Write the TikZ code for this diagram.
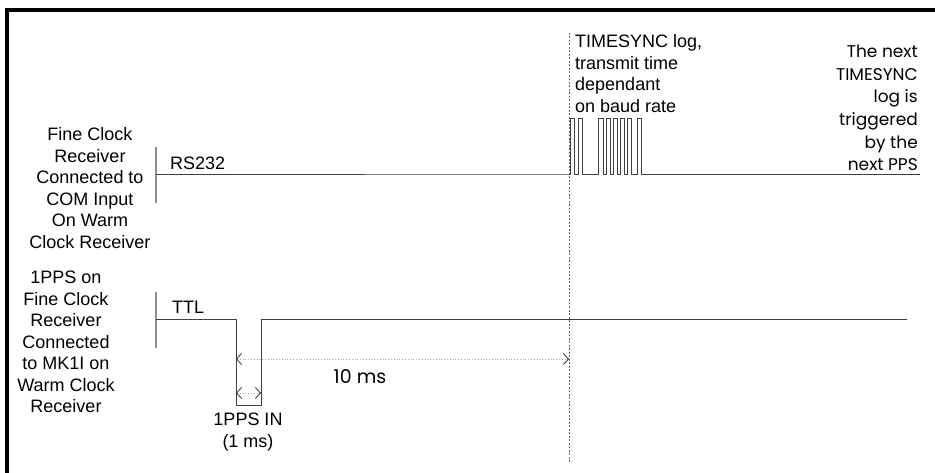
\documentclass[tikz,border=0pt]{standalone}
\usepackage{fontspec}
\setmainfont{Liberation Sans}
\newfontfamily\gothic{Poppins}
\usetikzlibrary{arrows.meta}

\tikzset{
  lbl/.style={inner sep=0pt, font=\fontsize{18}{21.5}\selectfont},
  thinlbl/.style={inner sep=0pt, font=\gothic\fontsize{17}{22.6}\selectfont},
  trace/.style={black!75, line width=0.9pt},
  sigbar/.style={black!45, line width=1.6pt},
  dim/.style={black!35, dotted, line width=0.8pt,
    {Straight Barb[length=5pt,width=11pt,black!80]}-{Straight Barb[length=5pt,width=11pt,black!80]}},
}

\begin{document}
\begin{tikzpicture}[x=1pt,y=-1pt]
  \useasboundingbox (0,0) rectangle (935,473);
  % frame
  \draw[line width=4pt] (7,473) -- (7,10) -- (935,10);

  % signal names
  \node[lbl, align=center] (comlbl) at (90,188)
    {Fine Clock\\Receiver\\Connected to\\COM Input\\On Warm\\Clock Receiver};
  \node[lbl, align=center] (ppslbl) at (66,342)
    {1PPS on\\Fine Clock\\Receiver\\Connected\\to MK1I on\\Warm Clock\\Receiver};

  % RS232 trace
  \draw[sigbar] (156,147) -- (156,203);
  \node[lbl, anchor=west] (rs) at (170,163) {RS232};
  \draw[trace] (156,174) -- (569,174)
    foreach \a/\b in {570/574,578/582,598/603,606/610,613/617,620/624,627/631,637/641}
      { -- (\a,174) -- (\a,118) -- (\b,118) -- (\b,174) } -- (920,174);

  % TTL trace
  \draw[sigbar] (156,292) -- (156,348);
  \node[lbl, anchor=west] (ttl) at (172,307) {TTL};
  \draw[trace] (156,319) -- (236,319) -- (236,405) -- (261,405) -- (261,319) -- (907,319);

  % PPS reference
  \draw[black!60, line width=0.9pt, dash pattern=on 2pt off 1.5pt] (569,33) -- (569,462);
  \coordinate (fall) at (236,359);
  \coordinate (sync) at (569,359);
  \draw[dim] (fall) -- (sync);
  \coordinate (wa) at (236,393);
  \coordinate (wb) at (261,393);
  \draw[dim] (wa) -- (wb);
  \node[thinlbl, font=\gothic\fontsize{19}{22}\selectfont] (tenms) at (360,377) {10 ms};
  \node[lbl, align=center] (ppsin) at (248,432) {1PPS IN\\(1 ms)};

  % notes
  \node[lbl, anchor=west, align=left] (logtxt) at (575,73.5)
    {TIMESYNC log,\\transmit time\\dependant\\on baud rate};
  \node[thinlbl, anchor=east, align=right] (nexttxt) at (918,108)
    {The next\\TIMESYNC\\log is\\triggered\\by the\\next PPS};
\end{tikzpicture}
\end{document}
